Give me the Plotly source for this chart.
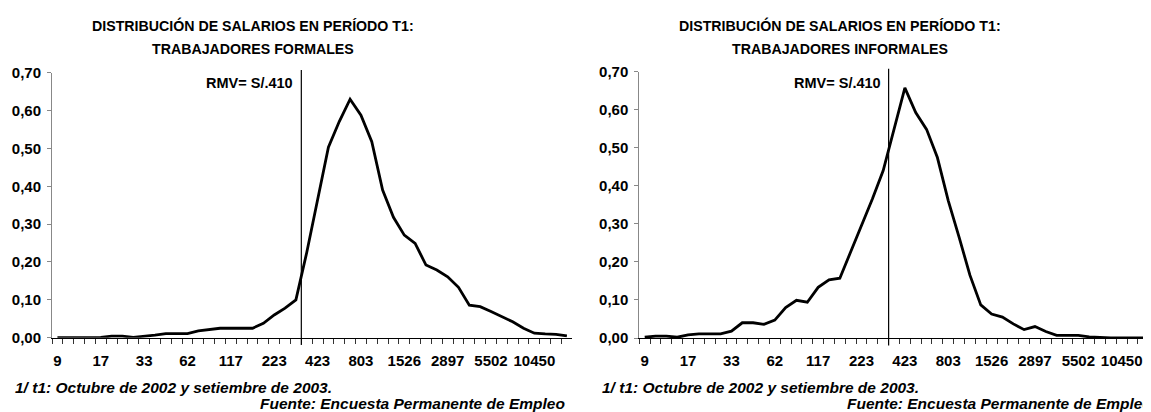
import plotly.graph_objects as go

# ---------------- data ----------------
categorias = ["9", "11", "12", "15", "17", "20", "24", "28", "33", "38", "45", "53",
              "62", "72", "85", "100", "117", "138", "162", "190", "223", "261", "307", "360",
              "423", "497", "583", "684", "803", "943", "1107", "1299", "1526", "1790", "2101", "2467",
              "2897", "3399", "3990", "4684", "5502", "6454", "7577", "8894", "10450", "12267", "14400", "16904"]
etiquetas = ["9", "17", "33", "62", "117", "223", "423", "803", "1526", "2897", "5502", "10450"]

formales = [0.000, 0.000, 0.000, 0.001, 0.001, 0.004, 0.004, 0.001, 0.003, 0.007, 0.011, 0.011,
            0.011, 0.018, 0.022, 0.025, 0.025, 0.025, 0.025, 0.038, 0.060, 0.078, 0.100, 0.225,
            0.365, 0.503, 0.571, 0.630, 0.588, 0.518, 0.390, 0.318, 0.271, 0.249, 0.192, 0.179,
            0.161, 0.133, 0.086, 0.082, 0.069, 0.056, 0.042, 0.025, 0.012, 0.010, 0.009, 0.005]

informales = [0.002, 0.005, 0.005, 0.002, 0.008, 0.011, 0.011, 0.011, 0.018, 0.040, 0.040, 0.036,
              0.047, 0.080, 0.099, 0.094, 0.133, 0.153, 0.157, 0.225, 0.295, 0.365, 0.440, 0.550,
              0.657, 0.592, 0.548, 0.474, 0.361, 0.265, 0.165, 0.087, 0.063, 0.055, 0.037, 0.022,
              0.030, 0.017, 0.007, 0.007, 0.007, 0.003, 0.001, 0.000, 0.000, 0.000, 0.000, 0.000]

rmv_texto = "RMV= S/.410"
rmv_indice = 22.5          # category boundary where the RMV line sits
titulo_1 = "DISTRIBUCIÓN DE SALARIOS EN PERÍODO T1:"
subtitulos = ["TRABAJADORES FORMALES", "TRABAJADORES INFORMALES"]
nota = "1/ t1: Octubre de 2002 y setiembre de 2003."
fuente = "Fuente: Encuesta Permanente de Empleo"
y_ticks = [0.0, 0.1, 0.2, 0.3, 0.4, 0.5, 0.6, 0.7]

# ---------------- layout geometry ----------------
# the page body keeps its default 8px margin, so the figure is sized to fill
# the rest of the 1151x412 window and positions are measured from that offset
OFF = 8
WIN_W, WIN_H = 1151, 412
W, H = WIN_W - OFF, WIN_H - OFF
FONT = "Liberation Sans, Arial, Helvetica, sans-serif"
cat_px = 10.84
left_x0, right_x0 = 52.0 - OFF, 639.3 - OFF
ncat = len(categorias)


def py(v):
    """window y pixel -> paper fraction"""
    return 1 - (v - OFF) / H


def px(v):
    """figure x pixel -> paper fraction"""
    return v / W


x1_dom = [px(left_x0), px(left_x0 + ncat * cat_px)]
x2_dom = [px(right_x0), 1.0]
x1_rng = [-0.5, ncat - 0.5]
x2_rng = [-0.5, -0.5 + (W - right_x0) / cat_px]
y1_dom = [py(337.7), py(72.7)]
y2_dom = [py(338.0), py(71.5)]

fig = go.Figure()
for vals, xa, ya in [(formales, "x", "y"), (informales, "x2", "y2")]:
    fig.add_trace(go.Scatter(x=categorias, y=vals, mode="lines", xaxis=xa, yaxis=ya,
                             line=dict(color="black", width=2.8), showlegend=False,
                             hoverinfo="x+y"))

ticktext = [c if c in etiquetas else "" for c in categorias]


def xaxis(dom, rng, anchor):
    return dict(domain=dom, type="category", range=rng, anchor=anchor, tickmode="array",
                tickvals=categorias, ticktext=ticktext, tickson="boundaries", tickangle=0,
                ticks="outside", ticklen=5, tickcolor="#333", tickwidth=1,
                showline=True, linecolor="black", linewidth=1, showgrid=False,
                zeroline=False, automargin=False, fixedrange=True,
                tickfont=dict(family=FONT, size=15, color="black", weight="bold"),
                ticklabelstandoff=9)


def yaxis(dom, anchor):
    return dict(domain=dom, range=[0, 0.70], anchor=anchor, tickmode="array",
                tickvals=y_ticks, tickformat=".2f", ticks="outside", ticklen=4,
                tickcolor="#888", showline=True, linecolor="#888", linewidth=1,
                showgrid=False, zeroline=False, automargin=False, fixedrange=True,
                tickfont=dict(family=FONT, size=15, color="black", weight="bold"),
                ticklabelstandoff=3)


fig.update_layout(
    width=W, height=H, autosize=False, template="none",
    margin=dict(l=0, r=0, t=0, b=0, pad=0),
    paper_bgcolor="white", plot_bgcolor="white",
    separators=",.",
    xaxis=xaxis(x1_dom, x1_rng, "y"), yaxis=yaxis(y1_dom, "x"),
    xaxis2=xaxis(x2_dom, x2_rng, "y2"), yaxis2=yaxis(y2_dom, "x2"),
)

annotations = []
shapes = []
for k, (xa, ya, rng, x0px) in enumerate([("x", "y", x1_rng, left_x0), ("x2", "y2", x2_rng, right_x0)]):
    frac = (rmv_indice - rng[0]) / (rng[1] - rng[0])
    shapes.append(dict(type="line", xref=f"{xa} domain", yref=f"{ya} domain",
                       x0=frac, x1=frac, y0=-0.028, y1=1.01,
                       line=dict(color="black", width=1.2)))
    annotations.append(dict(xref=f"{xa} domain", yref="paper", x=frac, y=py(83),
                            text=f"<b>{rmv_texto}</b>", showarrow=False, xanchor="right",
                            yanchor="middle", xshift=-6,
                            font=dict(family=FONT, size=14.5, color="black")))
    cx = px(x0px + 201)
    annotations.append(dict(xref="paper", yref="paper", x=cx, y=py(25.5),
                            text=f"<b>{titulo_1}</b>", showarrow=False, xanchor="center",
                            yanchor="middle", font=dict(family=FONT, size=14.2, color="black")))
    annotations.append(dict(xref="paper", yref="paper", x=cx, y=py(49.5),
                            text=f"<b>{subtitulos[k]}</b>", showarrow=False, xanchor="center",
                            yanchor="middle", font=dict(family=FONT, size=14.2, color="black")))
    annotations.append(dict(xref="paper", yref="paper", x=px(x0px - 39), y=py(387.5),
                            text=f"<b><i>{nota}</i></b>", showarrow=False, xanchor="left",
                            yanchor="middle", font=dict(family=FONT, size=15.5, color="black")))
    annotations.append(dict(xref="paper", yref="paper", x=px(x0px + 206), y=py(403),
                            text=f"<b><i>{fuente}</i></b>", showarrow=False, xanchor="left",
                            yanchor="middle", font=dict(family=FONT, size=15.5, color="black")))

fig.update_layout(annotations=annotations, shapes=shapes)
fig.write_html("out.html")
